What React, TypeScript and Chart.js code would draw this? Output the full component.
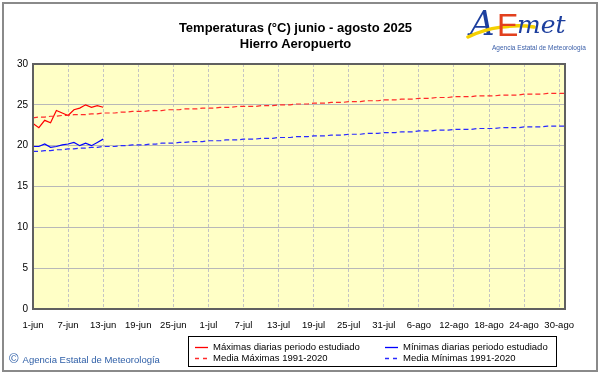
import { useEffect, useRef } from "react";
import { Chart, registerables } from "chart.js";

Chart.register(...registerables);

const tickLabels = ["1-jun", "7-jun", "13-jun", "19-jun", "25-jun", "1-jul", "7-jul", "13-jul", "19-jul", "25-jul", "31-jul", "6-ago", "12-ago", "18-ago", "24-ago", "30-ago"];

const maxDaily = [22.7, 22.2, 23.1, 22.8, 24.3, 24.0, 23.7, 24.4, 24.6, 25.0, 24.7, 24.9, 24.7];
const minDaily = [19.9, 19.9, 20.2, 19.8, 19.9, 20.1, 20.2, 20.4, 20.0, 20.3, 20.0, 20.4, 20.8];

const meanMax = [
  23.4, 23.5, 23.5, 23.6, 23.6, 23.7, 23.7, 23.8, 23.8, 23.8, 23.9, 23.9, 24.0, 24.0, 24.0, 24.1, 24.1, 24.2, 24.2, 24.2, 24.3, 24.3, 24.3, 24.4, 24.4, 24.4, 24.5, 24.5, 24.5, 24.6,
  24.6, 24.6, 24.7, 24.7, 24.7, 24.8, 24.8, 24.8, 24.8, 24.9, 24.9, 24.9, 25.0, 25.0, 25.0, 25.1, 25.1, 25.1, 25.2, 25.2, 25.2, 25.3, 25.3, 25.3, 25.4, 25.4, 25.4, 25.5, 25.5, 25.5, 25.6,
  25.6, 25.6, 25.7, 25.7, 25.7, 25.8, 25.8, 25.8, 25.9, 25.9, 25.9, 26.0, 26.0, 26.0, 26.0, 26.1, 26.1, 26.1, 26.1, 26.2, 26.2, 26.2, 26.2, 26.3, 26.3, 26.3, 26.3, 26.4, 26.4, 26.4, 26.4,
];
const meanMin = [
  19.3, 19.3, 19.4, 19.4, 19.5, 19.5, 19.6, 19.6, 19.7, 19.7, 19.8, 19.8, 19.9, 19.9, 19.9, 20.0, 20.0, 20.1, 20.1, 20.1, 20.2, 20.2, 20.3, 20.3, 20.3, 20.4, 20.4, 20.5, 20.5, 20.5,
  20.6, 20.6, 20.6, 20.7, 20.7, 20.7, 20.8, 20.8, 20.8, 20.9, 20.9, 20.9, 21.0, 21.0, 21.0, 21.1, 21.1, 21.1, 21.2, 21.2, 21.2, 21.3, 21.3, 21.3, 21.4, 21.4, 21.4, 21.5, 21.5, 21.5, 21.6,
  21.6, 21.6, 21.7, 21.7, 21.7, 21.8, 21.8, 21.8, 21.9, 21.9, 21.9, 22.0, 22.0, 22.0, 22.0, 22.1, 22.1, 22.1, 22.1, 22.2, 22.2, 22.2, 22.2, 22.3, 22.3, 22.3, 22.3, 22.4, 22.4, 22.4, 22.4,
];

const toPoints = (arr: number[]) => arr.map((v, i) => ({ x: i, y: v }));

const FONT = "'Liberation Sans', Arial, sans-serif";

export default function App() {
  const ref = useRef<HTMLCanvasElement>(null);

  useEffect(() => {
    document.body.style.margin = "0";
    const frame = {
      id: "frame",
      beforeDraw(chart: any) {
        const { ctx, chartArea: a } = chart;
        ctx.save();
        ctx.fillStyle = "#ffffc6";
        ctx.fillRect(a.left, a.top, a.right - a.left, a.bottom - a.top);
        ctx.restore();
      },
      afterDraw(chart: any) {
        const { ctx, chartArea: a } = chart;
        ctx.save();
        ctx.strokeStyle = "#606060";
        ctx.lineWidth = 2;
        ctx.strokeRect(a.left, a.top, a.right - a.left, a.bottom - a.top);
        ctx.restore();
      },
    };
    const chart = new Chart(ref.current as HTMLCanvasElement, {
      type: "line",
      data: {
        datasets: [
          { label: "Media Máximas 1991-2020", data: toPoints(meanMax), borderColor: "#ff2a2a", borderWidth: 1.2, borderDash: [5, 3], pointRadius: 0, fill: false },
          { label: "Media Mínimas 1991-2020", data: toPoints(meanMin), borderColor: "#2a2aff", borderWidth: 1.2, borderDash: [5, 3], pointRadius: 0, fill: false },
          { label: "Máximas diarias periodo estudiado", data: toPoints(maxDaily), borderColor: "#ff0000", borderWidth: 1.2, pointRadius: 0, fill: false },
          { label: "Mínimas diarias periodo estudiado", data: toPoints(minDaily), borderColor: "#0000ff", borderWidth: 1.2, pointRadius: 0, fill: false },
        ],
      },
      options: {
        responsive: false,
        animation: false,
        layout: { padding: { top: 64, right: 36, bottom: 0, left: 0 } },
        plugins: { legend: { display: false }, title: { display: false }, tooltip: { enabled: false } },
        scales: {
          x: {
            type: "linear",
            min: 0,
            max: 91,
            afterBuildTicks: (s: any) => {
              s.ticks = tickLabels.map((_, i) => ({ value: i * 6 }));
            },
            afterFit: (s: any) => {
              s.height = 65;
            },
            ticks: {
              autoSkip: false,
              maxRotation: 0,
              padding: 11,
              color: "#000",
              font: { family: FONT, size: 9.5 },
              callback: (v: any) => tickLabels[Math.round(Number(v) / 6)] ?? "",
            },
            grid: { color: "#c4c4c4", drawTicks: false, lineWidth: 1 },
            border: { display: false, dash: [3, 2] },
          },
          y: {
            min: 0,
            max: 30,
            afterFit: (s: any) => {
              s.width = 33;
            },
            ticks: { stepSize: 5, padding: 5, color: "#000", font: { family: FONT, size: 10 } },
            grid: { color: "#b8b8b8", drawTicks: false, lineWidth: 1 },
            border: { display: false },
          },
        },
      },
      plugins: [frame],
    } as any);
    return () => chart.destroy();
  }, []);

  const legendText: any = { position: "absolute", fontFamily: FONT, fontSize: 9.5, color: "#000", whiteSpace: "nowrap", lineHeight: "11px" };
  const sample = (color: string, dashed: boolean, left: number, top: number) => (
    <svg style={{ position: "absolute", left, top }} width={13} height={3}>
      <line x1={0} y1={1.5} x2={13} y2={1.5} stroke={color} strokeWidth={1.3} strokeDasharray={dashed ? "4 4" : undefined} />
    </svg>
  );

  return (
    <div style={{ position: "fixed", left: 0, top: 0, width: 601, height: 374, background: "#fff", overflow: "hidden" }}>
      <canvas ref={ref} width={601} height={374} style={{ position: "absolute", left: 0, top: 0 }} />
      <div style={{ position: "absolute", left: 2, top: 2, width: 592, height: 366, border: "2px solid #8a8a8a" }} />
      <div style={{ position: "absolute", left: -5, top: 20, width: 601, textAlign: "center", fontFamily: FONT, fontWeight: "bold", fontSize: 13, lineHeight: "16px", color: "#000" }}>
        <div>Temperaturas (°C) junio - agosto 2025</div>
        <div>Hierro Aeropuerto</div>
      </div>
      <div style={{ position: "absolute", left: 462, top: 0, width: 132, height: 56 }}>
        <span style={{ position: "absolute", left: 8, top: 4, fontFamily: "'DejaVu Serif', serif", fontStyle: "italic", fontSize: 34, color: "#1d3f9e", lineHeight: "38px" }}>A</span>
        <svg style={{ position: "absolute", left: 0, top: 0 }} width={132} height={56}>
          <path d="M6 37 C 26 27, 52 24, 72 27" stroke="#f5d000" strokeWidth={3.5} fill="none" strokeLinecap="round" />
        </svg>
        <span style={{ position: "absolute", left: 35, top: 7, fontFamily: "'Liberation Sans', sans-serif", fontSize: 32, color: "#e2401d", lineHeight: "36px" }}>E</span>
        <span style={{ position: "absolute", left: 55, top: 9, fontFamily: "'DejaVu Serif', serif", fontStyle: "italic", fontSize: 25, color: "#1d3f9e", lineHeight: "32px" }}>met</span>
        <span style={{ position: "absolute", left: 30, top: 44, fontFamily: FONT, fontSize: 6.5, color: "#3a5ea8", whiteSpace: "nowrap" }}>Agencia Estatal de Meteorología</span>
      </div>
      <div style={{ position: "absolute", left: 188, top: 336, width: 367, height: 29, border: "1px solid #000", background: "#fff" }}>
        {sample("#ff0000", false, 6, 9)}
        <span style={{ ...legendText, left: 24, top: 4 }}>Máximas diarias periodo estudiado</span>
        {sample("#0000ff", false, 196, 9)}
        <span style={{ ...legendText, left: 214, top: 4 }}>Mínimas diarias periodo estudiado</span>
        {sample("#ff2a2a", true, 6, 20)}
        <span style={{ ...legendText, left: 24, top: 15 }}>Media Máximas 1991-2020</span>
        {sample("#2a2aff", true, 196, 20)}
        <span style={{ ...legendText, left: 214, top: 15 }}>Media Mínimas 1991-2020</span>
      </div>
      <div style={{ position: "absolute", left: 9, top: 351, fontFamily: FONT, fontSize: 9.5, color: "#3060a8", whiteSpace: "nowrap" }}>
        <span style={{ fontSize: 13, marginRight: 4 }}>©</span>Agencia Estatal de Meteorología
      </div>
    </div>
  );
}
